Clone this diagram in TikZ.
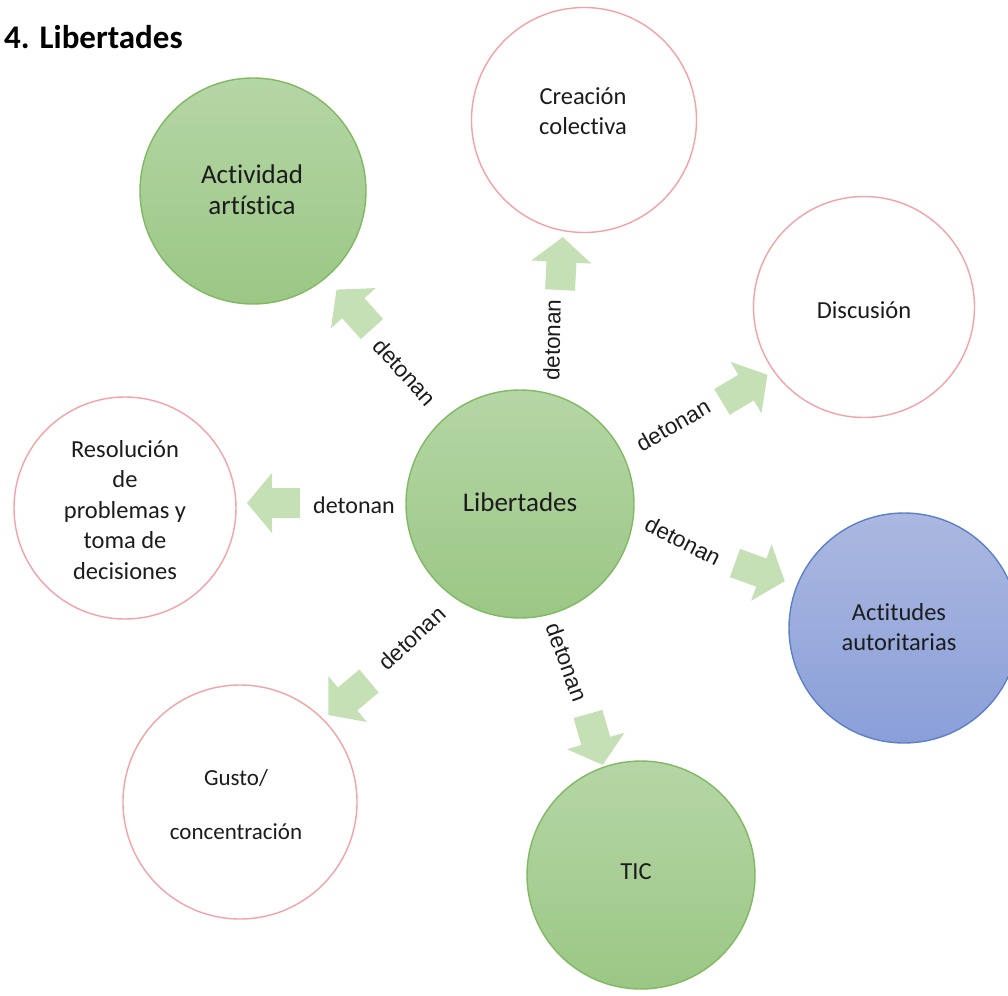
\documentclass[tikz,border=0pt]{standalone}
\usepackage{fontspec}
\setmainfont[Ligatures=NoCommon]{Carlito}
\newfontfamily\arialfont{Liberation Sans}
\usetikzlibrary{calc}

\definecolor{greentop}{HTML}{B5D6A5}
\definecolor{greenbot}{HTML}{9BC785}
\definecolor{greenline}{HTML}{80B962}
\definecolor{bluetop}{HTML}{ABB8E0}
\definecolor{bluebot}{HTML}{8A9FD9}
\definecolor{blueline}{HTML}{5B80C9}
\definecolor{pinkline}{HTML}{F4A2A5}
\definecolor{arrowfill}{HTML}{C5E0B4}
\definecolor{inktext}{HTML}{1C1C1C}

\tikzset{
  bubble/.style={circle, inner sep=0pt, line width=1.4pt},
  greenbubble/.style={bubble, draw=greenline, top color=greentop, bottom color=greenbot},
  bluebubble/.style={bubble, draw=blueline, top color=bluetop, bottom color=bluebot},
  whitebubble/.style={bubble, draw=pinkline, fill=white},
  bigtext/.style={text=inktext, align=center, font=\fontsize{27}{31}\selectfont},
  smalltext/.style={text=inktext, align=center, font=\fontsize{24.5}{30.5}\selectfont},
  verb/.style={text=inktext, inner sep=0pt, font=\arialfont\fontsize{22.5}{26}\selectfont},
  blockarrow/.pic={
    \fill[arrowfill] (0,-15) -- (28,-15) -- (28,-30) -- (53,0) -- (28,30) -- (28,15) -- (0,15) -- cycle;
  }
}

\begin{document}
\begin{tikzpicture}[x=1pt, y=-1pt]
\useasboundingbox (0,0) rectangle (1008,995);

% heading
\node[anchor=base west, inner sep=0pt, text=black, font=\bfseries\fontsize{33}{37}\selectfont] (title) at (4,49) {4. Libertades};

% bubbles
\node[greenbubble, minimum size=228pt] (lib) at (520,504) {};
\node[greenbubble, minimum size=226pt] (act) at (253,191) {};
\node[whitebubble, minimum size=225pt] (cre) at (584,120) {};
\node[whitebubble, minimum size=221pt] (dis) at (864,307) {};
\node[whitebubble, minimum size=222pt] (res) at (125,508) {};
\node[bluebubble,  minimum size=230pt] (aut) at (904,628) {};
\node[whitebubble, minimum size=234pt] (gus) at (240,802) {};
\node[greenbubble, minimum size=228pt] (tic) at (641,875) {};

% bubble texts
\node[bigtext] (lib-t) at (520,502) {Libertades};
\node[bigtext] (act-t) at (252,190) {Actividad\\artística};
\node[smalltext] (cre-t) at (583,111) {Creación\\colectiva};
\node[smalltext] (dis-t) at (864,310) {Discusión};
\node[smalltext] (res-t) at (125,510) {Resolución\\de\\problemas y\\toma de\\decisiones};
\node[smalltext] (aut-t) at (899,627) {Actitudes\\autoritarias};
\node[text=inktext, align=center, font=\fontsize{23}{27}\selectfont] (gus-t) at (236,805) {Gusto/\\[27pt]concentración};
\node[smalltext] (tic-t) at (636,872) {TIC};

% block arrows (placed at the tail, turned toward the target)
\pic[rotate=132] (a1) at (372,329) {blockarrow};
\pic[rotate=87]  (a2) at (560,290) {blockarrow};
\pic[rotate=31]  (a3) at (722,402) {blockarrow};
\pic[rotate=180] (a4) at (300,503) {blockarrow};
\pic[rotate=-20] (a5) at (735,563) {blockarrow};
\pic[rotate=220] (a6) at (369,681) {blockarrow};
\pic[rotate=-74] (a7) at (588,714) {blockarrow};

% arrow labels
\node[verb, rotate=-48] (v1) at (405,372) {detonan};
\node[verb, rotate=89]  (v2) at (552,340) {detonan};
\node[verb, rotate=30]  (v3) at (673,425) {detonan};
\node[text=inktext, inner sep=0pt, font=\fontsize{24}{28}\selectfont] (v4) at (354,505) {detonan};
\node[verb, rotate=-27] (v5) at (683,541) {detonan};
\node[verb, rotate=43]  (v6) at (412,638) {detonan};
\node[verb, rotate=-70] (v7) at (567,662) {detonan};
\end{tikzpicture}
\end{document}
